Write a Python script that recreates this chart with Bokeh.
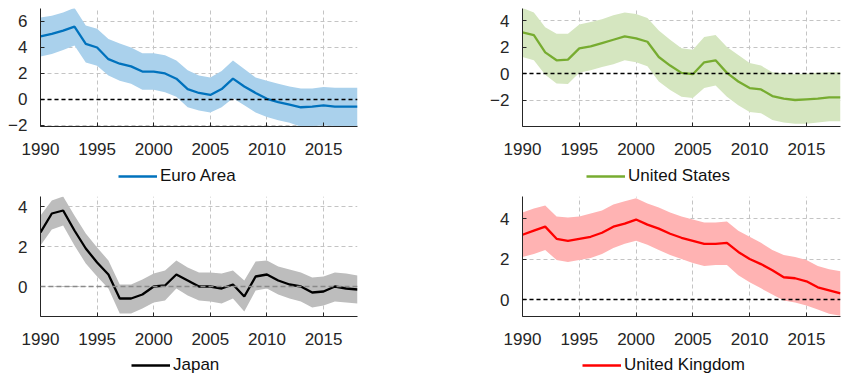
from bokeh.plotting import figure
from bokeh.layouts import gridplot
from bokeh.models import FixedTicker, Span, Legend, LegendItem, Range1d, ColumnDataSource
from bokeh.embed import file_html
from bokeh.resources import INLINE

years = list(range(1990, 2019))

ea_mid = [4.85, 5.05, 5.3, 5.6, 4.28, 4.0, 3.1, 2.75, 2.55, 2.15, 2.15, 2.0, 1.6, 0.8, 0.5, 0.35, 0.8, 1.6, 1.0, 0.5, 0.05, -0.2, -0.4, -0.6, -0.55, -0.45, -0.55, -0.55, -0.55]
ea_hi = [6.3, 6.45, 6.7, 7.05, 5.7, 5.45, 4.65, 4.3, 4.0, 3.55, 3.55, 3.4, 3.0, 2.25, 1.85, 1.7, 2.2, 3.0, 2.35, 1.7, 1.45, 1.2, 1.0, 0.85, 0.85, 0.95, 0.9, 0.9, 0.9]
ea_lo = [3.3, 3.5, 3.8, 4.15, 2.85, 2.6, 1.85, 1.45, 1.2, 0.75, 0.75, 0.55, 0.2, -0.6, -0.85, -1.0, -0.6, 0.1, -0.45, -1.0, -1.35, -1.6, -1.8, -2.1, -2.05, -2.0, -2.05, -2.05, -2.05]

us_mid = [3.1, 2.9, 1.6, 1.0, 1.05, 1.9, 2.05, 2.3, 2.55, 2.8, 2.65, 2.4, 1.25, 0.6, 0.05, -0.05, 0.85, 1.0, 0.05, -0.6, -1.1, -1.2, -1.7, -1.9, -2.0, -1.95, -1.9, -1.8, -1.8]
us_hi = [4.95, 4.6, 3.5, 3.0, 3.0, 3.7, 3.9, 4.1, 4.4, 4.6, 4.5, 4.2, 3.25, 2.55, 1.9, 1.8, 2.75, 2.9, 2.0, 1.4, 0.8, 0.6, 0.1, 0.0, -0.05, 0.0, 0.05, 0.1, 0.1]
us_lo = [1.25, 1.0, -0.1, -0.75, -0.8, 0.05, 0.25, 0.5, 0.7, 1.0, 0.85, 0.55, -0.6, -1.25, -1.75, -1.85, -1.1, -0.9, -1.75, -2.4, -2.9, -3.0, -3.5, -3.7, -3.8, -3.8, -3.7, -3.6, -3.6]

jp_mid = [2.7, 3.65, 3.8, 2.8, 1.9, 1.2, 0.6, -0.6, -0.6, -0.4, 0.0, 0.05, 0.6, 0.3, 0.0, 0.0, -0.1, 0.1, -0.5, 0.5, 0.6, 0.3, 0.1, 0.0, -0.3, -0.25, 0.0, -0.1, -0.15]
jp_hi = [3.55, 4.3, 4.5, 3.55, 2.65, 1.95, 1.3, 0.1, 0.1, 0.35, 0.65, 0.8, 1.3, 0.95, 0.7, 0.7, 0.65, 0.8, 0.3, 1.25, 1.3, 1.0, 0.85, 0.7, 0.45, 0.5, 0.7, 0.65, 0.55]
jp_lo = [2.05, 2.85, 3.05, 2.05, 1.15, 0.5, -0.1, -1.35, -1.35, -1.1, -0.8, -0.7, -0.1, -0.45, -0.7, -0.75, -0.85, -0.6, -1.25, -0.2, -0.1, -0.4, -0.6, -0.75, -1.05, -0.95, -0.75, -0.8, -0.85]

uk_mid = [3.2, 3.4, 3.6, 3.0, 2.9, 3.0, 3.1, 3.3, 3.6, 3.75, 3.95, 3.7, 3.5, 3.25, 3.05, 2.9, 2.75, 2.75, 2.8, 2.35, 2.0, 1.75, 1.45, 1.1, 1.05, 0.9, 0.6, 0.45, 0.3]
uk_hi = [4.3, 4.5, 4.65, 4.1, 4.05, 4.1, 4.25, 4.4, 4.7, 4.85, 5.0, 4.75, 4.55, 4.3, 4.1, 3.95, 3.8, 3.8, 3.85, 3.4, 3.1, 2.8, 2.45, 2.2, 2.1, 1.95, 1.65, 1.5, 1.4]
uk_lo = [2.1, 2.25, 2.45, 1.95, 1.85, 1.95, 2.05, 2.25, 2.55, 2.75, 2.9, 2.7, 2.45, 2.2, 2.0, 1.8, 1.65, 1.7, 1.7, 1.2, 0.85, 0.55, 0.25, -0.05, -0.15, -0.3, -0.5, -0.7, -0.8]

x_ticks = [1990, 1995, 2000, 2005, 2010, 2015]

FONT = "Liberation Sans"
AX = "#262626"
BB = 38  # bottom border holding the x tick labels


def panel(mid, hi, lo, line_color, band_color, y_range, y_ticks, w,
          b_left, b_right, b_top, fh, zero_color, zero_dash):
    p = figure(width=w, height=b_top + fh + BB, output_backend="svg", toolbar_location=None,
               x_range=Range1d(1990, 2018), y_range=Range1d(*y_range),
               min_border_left=b_left, min_border_right=b_right,
               min_border_top=b_top, min_border_bottom=BB)
    p.outline_line_color = None
    src = ColumnDataSource(dict(x=years, mid=mid, hi=hi, lo=lo))
    p.varea(x="x", y1="lo", y2="hi", source=src, fill_color=band_color)
    p.add_layout(Span(location=0, dimension="width", line_color=zero_color,
                      line_dash=zero_dash, line_width=1.5))
    p.line(x="x", y="mid", source=src, line_color=line_color, line_width=2.3)

    for ax in (p.xaxis[0], p.yaxis[0]):
        ax.axis_line_color = AX
        ax.axis_line_width = 1
        ax.major_tick_line_color = AX
        ax.major_tick_in = 4
        ax.major_tick_out = 0
        ax.minor_tick_line_color = None
        ax.major_label_text_font = FONT
        ax.major_label_text_font_size = "17px"
        ax.major_label_text_color = AX
    p.xaxis[0].ticker = FixedTicker(ticks=x_ticks)
    p.yaxis[0].ticker = FixedTicker(ticks=y_ticks)
    p.xaxis[0].major_label_standoff = 16
    p.yaxis[0].major_label_standoff = 13

    p.xgrid.ticker = FixedTicker(ticks=x_ticks)
    p.ygrid.ticker = FixedTicker(ticks=y_ticks)
    for g in (p.xgrid[0], p.ygrid[0]):
        g.grid_line_color = "#c4c4c4"
        g.grid_line_dash = "4 3"
        g.grid_line_width = 1
    return p


def legend_fig(label, mid, line_color, w, h, b_left, b_right, lx, ly):
    # legend-only strip; the series line lies outside this strip's view
    q = figure(width=w, height=h, output_backend="svg", toolbar_location=None,
               x_axis_type=None, y_axis_type=None,
               min_border_left=b_left, min_border_right=b_right,
               min_border_top=0, min_border_bottom=0,
               x_range=Range1d(0, 1), y_range=Range1d(0, 1))
    q.outline_line_color = None
    q.grid.visible = False
    r = q.line(x=years, y=mid, line_color=line_color, line_width=2.3)
    leg = Legend(items=[LegendItem(label=label, renderers=[r])],
                 location=(lx, ly), orientation="horizontal",
                 border_line_color=None, background_fill_alpha=0,
                 padding=0, margin=0, spacing=0, glyph_width=39, glyph_height=18,
                 label_standoff=3, label_text_font=FONT, label_text_font_size="17px",
                 label_text_color="#111111", label_height=18)
    q.add_layout(leg)
    return q


p1 = panel(ea_mid, ea_hi, ea_lo, "#0072BD", "#AAD1EC",
           (-2.08, 7.0), [-2, 0, 2, 4, 6], 420, 40, 63, 8, 118, "#000000", "4 3")
p2 = panel(us_mid, us_hi, us_lo, "#77AC30", "#D5E6C0",
           (-4.0, 4.91), [-2, 0, 2, 4], 430, 102, 10, 8, 118, "#000000", "4 3")
p3 = panel(jp_mid, jp_hi, jp_lo, "#000000", "#BDBDBD",
           (-1.5, 4.5), [0, 2, 4], 420, 40, 63, 6, 120, "#8a8a8a", "5 3")
p4 = panel(uk_mid, uk_hi, uk_lo, "#FF0000", "#FFB3B3",
           (-0.84, 5.09), [0, 2, 4], 430, 102, 10, 6, 120, "#000000", "4 3")

l1 = legend_fig("Euro Area", ea_mid, "#0072BD", 420, 26, 40, 63, 78, 4)
l2 = legend_fig("United States", us_mid, "#77AC30", 430, 26, 102, 10, 64, 4)
l3 = legend_fig("Japan", jp_mid, "#000000", 420, 35, 40, 63, 91, 14)
l4 = legend_fig("United Kingdom", uk_mid, "#FF0000", 430, 35, 102, 10, 60, 14)

grid = gridplot([[p1, p2], [l1, l2], [p3, p4], [l3, l4]], toolbar_location=None)

open("out.html", "w").write(file_html(grid, INLINE))
